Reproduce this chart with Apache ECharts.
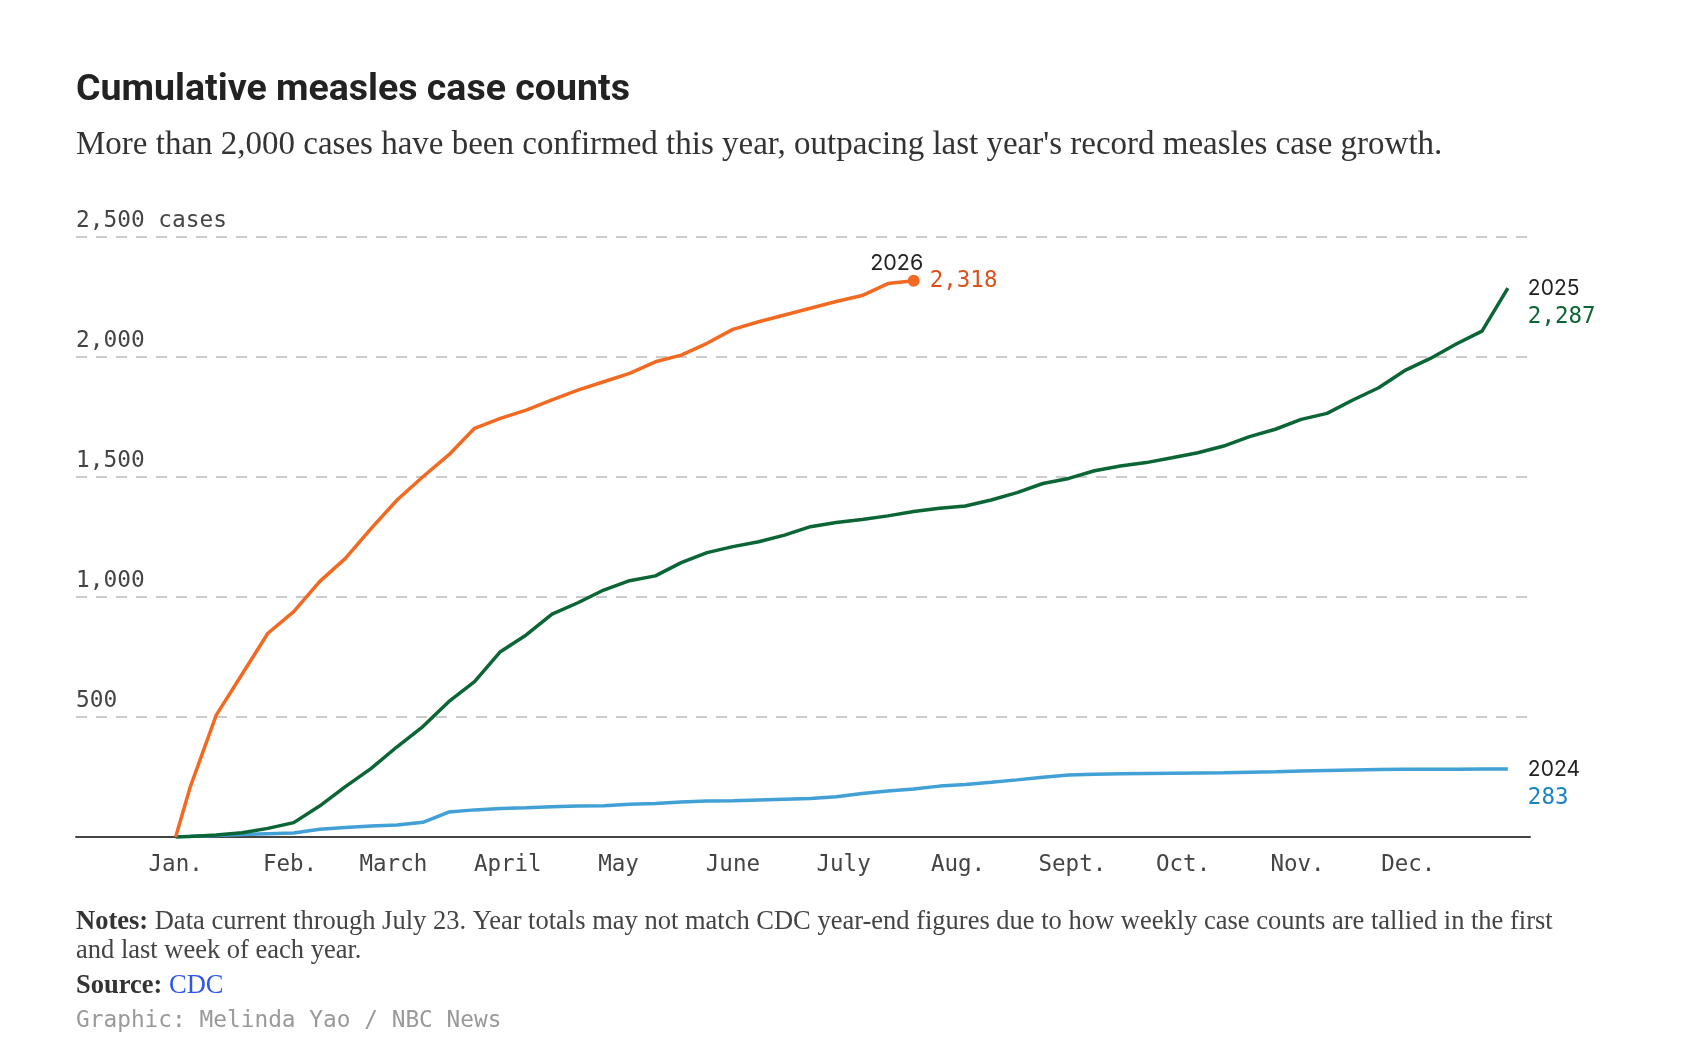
<!DOCTYPE html>
<html>
<head>
<meta charset="utf-8">
<title>Cumulative measles case counts</title>
<script src="https://cdn.jsdelivr.net/npm/echarts@6/dist/echarts.min.js"></script>
<style>
  html, body { margin: 0; padding: 0; background: #fff; }
  #chart { width: 1708px; height: 1062px; }
</style>
</head>
<body>
<div id="chart"></div>
<script>
// day of year for each weekly point (first entry = Jan 1 start)
const weekDays = [0, 4, 11, 18, 25, 32, 39, 46, 53, 60, 67, 74, 81, 88, 95, 102, 109, 116,
  123, 130, 137, 144, 151, 158, 165, 172, 179, 186, 193, 200, 207, 214, 221, 228, 235, 242,
  249, 256, 263, 270, 277, 284, 291, 298, 305, 312, 319, 326, 333, 340, 347, 354, 361];

// cumulative cases
const cases2024 = [0, 3, 6, 10, 14, 17, 32, 40, 46, 50, 61, 104, 113, 119, 122, 126, 129, 130,
  136, 140, 146, 150, 151, 154, 157, 160, 168, 181, 192, 200, 212, 219, 228, 238, 249, 258,
  261, 264, 265, 266, 267, 268, 270, 272, 275, 277, 279, 281, 282, 282, 282, 283, 283];
const cases2025 = [0, 2, 8, 18, 36, 60, 129, 210, 286, 376, 460, 564, 647, 772, 842, 929, 976,
  1029, 1068, 1088, 1143, 1185, 1210, 1230, 1258, 1293, 1310, 1323, 1338, 1356, 1370, 1379,
  1404, 1435, 1473, 1494, 1526, 1546, 1560, 1580, 1601, 1629, 1668, 1699, 1740, 1765, 1821,
  1872, 1943, 1994, 2054, 2108, 2287];
const cases2026 = [0, 210, 508, 678, 849, 939, 1064, 1161, 1286, 1404, 1501, 1592, 1703, 1744,
  1779, 1821, 1862, 1897, 1932, 1980, 2008, 2057, 2115, 2147, 2175, 2203, 2231, 2256, 2306, 2318];

// x axis labels sit on the first day of each month
const monthNames = ['Jan.', 'Feb.', 'March', 'April', 'May', 'June', 'July', 'Aug.', 'Sept.', 'Oct.', 'Nov.', 'Dec.'];
const monthStarts = [0, 31, 59, 90, 120, 151, 181, 212, 243, 273, 304, 334];

const yTicks = [0, 500, 1000, 1500, 2000, 2500];

const MONO = '"DejaVu Sans Mono", monospace';
const SERIF = '"Liberation Serif", "DejaVu Serif", serif';
const SANS = 'Inter, Roboto, sans-serif';

const colors = { y2024: '#41a0d6', y2025: '#0b6535', y2026: '#f26a21' };
const labelColors = { y2024: '#1b84c0', y2025: '#0b6535', y2026: '#d9521c' };

function fmt(v) {
  return v.toLocaleString('en-US');
}

// pair each value with its day
function toPoints(values) {
  return values.map((v, i) => [weekDays[i], v]);
}

const data2026 = toPoints(cases2026);
const last2026 = data2026[data2026.length - 1];

// two-line label at the end of a line: year + total
function endLabel(year, color) {
  return {
    show: true,
    distance: 20,
    offset: [0, 15],
    formatter: p => '{y|' + year + '}\n{v|' + fmt(p.value[1]) + '}',
    rich: {
      y: { fontFamily: SANS, fontSize: 21, color: '#222', lineHeight: 28 },
      v: { fontFamily: MONO, fontSize: 22.5, color: color, lineHeight: 28 }
    }
  };
}

const chart = echarts.init(document.getElementById('chart'), null, { renderer: 'canvas' });

const option = {
  backgroundColor: '#fff',
  animation: false,
  title: [
    {
      text: 'Cumulative measles case counts',
      left: 76, top: 72, padding: 0,
      textStyle: { fontFamily: 'Roboto, sans-serif', fontWeight: 'bold', fontSize: 37.5, lineHeight: 38, color: '#222' }
    },
    {
      text: "More than 2,000 cases have been confirmed this year, outpacing last year's record measles case growth.",
      left: 76, top: 129, padding: 0,
      textStyle: { fontFamily: SERIF, fontWeight: 'normal', fontSize: 33, lineHeight: 33, color: '#333' }
    },
    {
      text: '{b|Notes:} Data current through July 23. Year totals may not match CDC year-end figures due to how weekly case counts are tallied in the first\nand last week of each year.',
      left: 76, top: 908, padding: 0,
      textStyle: {
        fontFamily: SERIF, fontWeight: 'normal', fontSize: 26.5, lineHeight: 29, color: '#444',
        rich: { b: { fontFamily: SERIF, fontWeight: 'bold', fontSize: 26.5, lineHeight: 29, color: '#333' } }
      }
    },
    {
      text: '{b|Source:} {a|CDC}',
      left: 76, top: 972, padding: 0,
      textStyle: {
        fontFamily: SERIF, fontWeight: 'normal', fontSize: 26.5, lineHeight: 28, color: '#444',
        rich: {
          b: { fontFamily: SERIF, fontWeight: 'bold', fontSize: 26.5, lineHeight: 28, color: '#333' },
          a: { fontFamily: SERIF, fontSize: 26.5, lineHeight: 28, color: '#2f55f0' }
        }
      }
    },
    {
      text: 'Graphic: Melinda Yao / NBC News',
      left: 76, top: 1009, padding: 0,
      textStyle: { fontFamily: MONO, fontWeight: 'normal', fontSize: 22.8, lineHeight: 24, color: '#999' }
    }
  ],
  grid: { left: 76, right: 178, top: 237, bottom: 225, containLabel: false },
  xAxis: {
    type: 'value',
    min: -27,
    max: 367,
    axisLine: { show: true, lineStyle: { color: '#444', width: 2 } },
    axisTick: { show: false },
    splitLine: { show: false },
    axisLabel: {
      customValues: monthStarts,
      margin: 17,
      fontFamily: MONO,
      fontSize: 22.5,
      color: '#444',
      formatter: v => monthNames[monthStarts.indexOf(v)] || ''
    }
  },
  yAxis: {
    type: 'value',
    min: yTicks[0],
    max: yTicks[yTicks.length - 1],
    interval: yTicks[1] - yTicks[0],
    axisLine: { show: false },
    axisTick: { show: false },
    axisLabel: {
      inside: true,
      margin: 0,
      verticalAlign: 'bottom',
      padding: [0, 0, 4, 0],
      fontFamily: MONO,
      fontSize: 22.8,
      color: '#444',
      showMinLabel: false,
      formatter: v => v === yTicks[yTicks.length - 1] ? fmt(v) + ' cases' : fmt(v)
    },
    splitLine: { show: true, lineStyle: { color: '#cbcbcb', width: 2, type: [11, 9] } }
  },
  series: [
    {
      name: '2024',
      type: 'line',
      data: toPoints(cases2024),
      showSymbol: false,
      lineStyle: { color: colors.y2024, width: 3.5 },
      itemStyle: { color: colors.y2024 },
      endLabel: endLabel('2024', labelColors.y2024),
      z: 2
    },
    {
      name: '2025',
      type: 'line',
      data: toPoints(cases2025),
      showSymbol: false,
      lineStyle: { color: colors.y2025, width: 3.5 },
      itemStyle: { color: colors.y2025 },
      endLabel: endLabel('2025', labelColors.y2025),
      z: 3
    },
    {
      name: '2026',
      type: 'line',
      data: data2026,
      showSymbol: false,
      lineStyle: { color: colors.y2026, width: 3.5 },
      itemStyle: { color: colors.y2026 },
      endLabel: {
        show: true,
        distance: 16,
        formatter: p => fmt(p.value[1]),
        fontFamily: MONO,
        fontSize: 22.5,
        color: labelColors.y2026
      },
      // end dot + year name above it
      markPoint: {
        symbol: 'circle',
        symbolSize: 12,
        itemStyle: { color: colors.y2026 },
        label: {
          show: true,
          position: 'top',
          distance: 0,
          offset: [-17, 0],
          formatter: '2026',
          fontFamily: SANS,
          fontSize: 21.5,
          color: '#222'
        },
        data: [{ coord: last2026 }]
      },
      z: 4
    }
  ]
};

chart.setOption(option);
</script>
</body>
</html>
